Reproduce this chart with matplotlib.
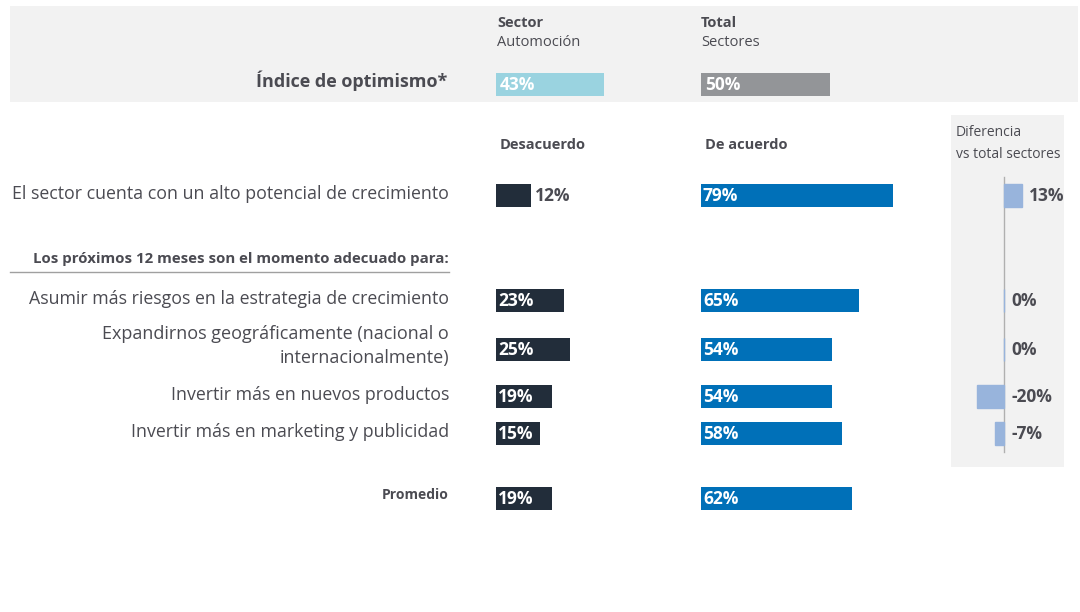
import matplotlib
matplotlib.use("Agg")
import matplotlib.pyplot as plt
from matplotlib.patches import Rectangle

plt.rcParams['font.family'] = ['Open Sans', 'DejaVu Sans']

# datos
indice_sector = 43
indice_total = 50
filas = ["El sector cuenta con un alto potencial de crecimiento",
         "Asumir más riesgos en la estrategia de crecimiento",
         "Expandirnos geográficamente (nacional o\ninternacionalmente)",
         "Invertir más en nuevos productos",
         "Invertir más en marketing y publicidad",
         "Promedio"]
desacuerdo = [12, 23, 25, 19, 15, 19]
de_acuerdo = [79, 65, 54, 54, 58, 62]
diferencia = [13, 0, 0, -20, -7]

# layout (pixeles)
W, H = 1080, 612
fila_y = [195, 300, 349, 396, 433, 498]
alto = 23

c_texto = '#4b4b52'
c_oscuro = '#222d3a'
c_azul = '#0070b8'
c_claro = '#9ad3e0'
c_gris = '#939598'
c_dif = '#98b4dc'
c_fondo = '#f2f2f2'

fig = plt.figure(figsize=(W / 100, H / 100), dpi=100)
bg = fig.add_axes([0, 0, 1, 1])
bg.set_xlim(0, W)
bg.set_ylim(H, 0)
bg.axis('off')

# fondos
bg.add_patch(Rectangle((10, 6), 1068, 96, color=c_fondo, lw=0))
bg.add_patch(Rectangle((951, 115), 113, 352, color=c_fondo, lw=0))


def col_axes(left, width, x0, x1):
    ax = fig.add_axes([left / W, 0, width / W, 1])
    ax.set_xlim(x0, x1)
    ax.set_ylim(H, 0)
    ax.axis('off')
    ax.patch.set_alpha(0)
    return ax


# cabecera
bg.text(497, 23, "Sector", fontsize=10.5, fontweight='bold', color=c_texto, va='center')
bg.text(497, 43, "Automoción", fontsize=10.5, color=c_texto, va='center')
bg.text(701, 23, "Total", fontsize=10.5, fontweight='bold', color=c_texto, va='center')
bg.text(701, 43, "Sectores", fontsize=10.5, color=c_texto, va='center')
bg.text(447, 81, "Índice de optimismo*", fontsize=13, fontweight='bold',
        color=c_texto, ha='right', va='center')

ax_s = col_axes(496, 250, 0, 100)
ax_s.barh(84.5, indice_sector, height=alto, color=c_claro, align='center')
ax_s.text(1.5, 85, f"{indice_sector}%", color='white', fontsize=12.5,
          fontweight='bold', va='center')
ax_t = col_axes(701, 258, 0, 100)
ax_t.barh(84.5, indice_total, height=alto, color=c_gris, align='center')
ax_t.text(1.5, 85, f"{indice_total}%", color='white', fontsize=12.5,
          fontweight='bold', va='center')

# encabezados de columnas
bg.text(500, 145, "Desacuerdo", fontsize=10.5, fontweight='bold', color=c_texto, va='center')
bg.text(705, 145, "De acuerdo", fontsize=10.5, fontweight='bold', color=c_texto, va='center')
bg.text(956, 133, "Diferencia", fontsize=10, color=c_texto, va='center')
bg.text(956, 155, "vs total sectores", fontsize=10, color=c_texto, va='center')

# etiquetas de filas
for lab, y in zip(filas, fila_y):
    if lab == "Promedio":
        bg.text(449, y - 3, lab, fontsize=10, fontweight='bold', color=c_texto,
                ha='right', va='center')
    elif "\n" in lab:
        bg.text(449, y - 3, lab, fontsize=13, color=c_texto, ha='right',
                va='center', linespacing=1.4)
    else:
        bg.text(449, y - 1, lab, fontsize=12.8, color=c_texto, ha='right', va='center')

bg.text(449, 259, "Los próximos 12 meses son el momento adecuado para:", fontsize=10.8,
        fontweight='bold', color=c_texto, ha='right', va='center')
bg.plot([10, 449], [272, 272], color='#a0a0a0', lw=1)

# desacuerdo
esc_d = 2.95
ax_d = col_axes(496, 150, 0, 150 / esc_d)
ax_d.barh(fila_y, desacuerdo, height=alto, color=c_oscuro)
for v, y in zip(desacuerdo, fila_y):
    if v < 14:
        ax_d.text(v + 1.2, y + 1, f"{v}%", color=c_texto, fontsize=12.5,
                  fontweight='bold', va='center')
    else:
        ax_d.text(0.8, y + 1, f"{v}%", color='white', fontsize=12.5,
                  fontweight='bold', va='center')

# de acuerdo
ax_a = col_axes(701, 243, 0, 100)
ax_a.barh(fila_y, de_acuerdo, height=alto, color=c_azul)
for v, y in zip(de_acuerdo, fila_y):
    ax_a.text(0.8, y + 1, f"{v}%", color='white', fontsize=12.5,
              fontweight='bold', va='center')

# diferencia
esc = 1.35
ax_f = col_axes(951, 113, -53 / esc, 60 / esc)
ax_f.barh(fila_y[:5], diferencia, height=alto, color=c_dif,
          edgecolor=c_dif, linewidth=1)
ax_f.plot([0, 0], [177, 452], color='#b0b0b0', lw=1, zorder=0)
for v, y in zip(diferencia, fila_y[:5]):
    x = max(v, 0) + 5.5
    ax_f.text(x, y + 1, f"{v}%", color=c_texto, fontsize=12.5,
              fontweight='bold', va='center')

fig.savefig("out.png", dpi=100)
